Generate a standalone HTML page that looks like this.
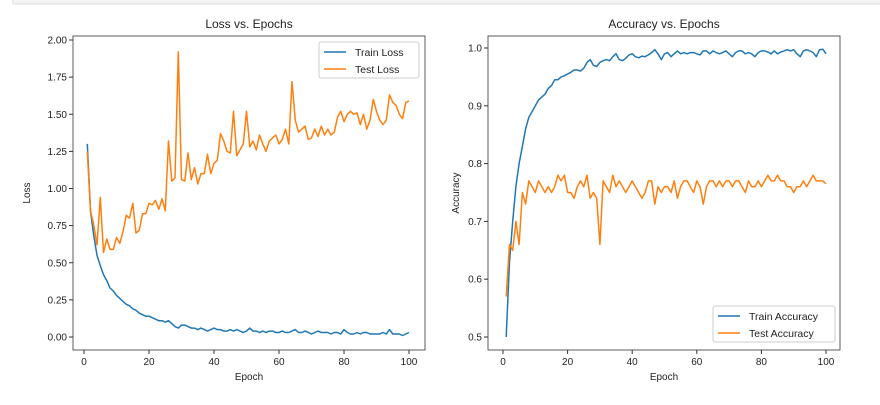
<!DOCTYPE html>
<html><head><meta charset="utf-8"><style>
body{margin:0;background:#fff;width:880px;height:400px;overflow:hidden}
text{font-family:"Liberation Sans",sans-serif;fill:#222}
</style></head><body>
<svg width="880" height="400">
<rect x="13" y="-1" width="870" height="5" fill="#f5f5f5" stroke="#dcdcdc"/>
<g id="g1"></g>
<g id="g2"></g>
</svg>
<script>
const trainLoss=[1.30,0.85,0.68,0.55,0.48,0.42,0.38,0.33,0.31,0.28,0.26,0.24,0.22,0.21,0.19,0.18,0.16,0.15,0.14,0.14,0.13,0.12,0.11,0.11,0.10,0.11,0.09,0.07,0.06,0.08,0.08,0.07,0.06,0.06,0.05,0.06,0.05,0.04,0.05,0.06,0.05,0.05,0.04,0.04,0.05,0.04,0.05,0.04,0.03,0.04,0.06,0.04,0.04,0.03,0.04,0.03,0.04,0.04,0.03,0.03,0.04,0.03,0.03,0.04,0.05,0.03,0.03,0.04,0.03,0.02,0.03,0.04,0.03,0.03,0.03,0.02,0.03,0.03,0.02,0.05,0.03,0.02,0.02,0.03,0.02,0.03,0.03,0.02,0.02,0.02,0.02,0.03,0.02,0.05,0.02,0.02,0.02,0.01,0.02,0.03];
const testLoss=[1.25,0.85,0.75,0.62,0.94,0.57,0.66,0.59,0.59,0.67,0.63,0.71,0.82,0.80,0.90,0.70,0.72,0.83,0.83,0.90,0.89,0.92,0.86,0.93,0.85,1.32,1.05,1.07,1.92,1.06,1.05,1.24,1.06,1.14,1.03,1.10,1.10,1.23,1.10,1.17,1.19,1.37,1.32,1.25,1.24,1.52,1.22,1.26,1.30,1.52,1.28,1.32,1.26,1.36,1.30,1.25,1.32,1.34,1.36,1.30,1.33,1.40,1.30,1.72,1.46,1.38,1.40,1.42,1.33,1.34,1.40,1.35,1.42,1.36,1.40,1.36,1.38,1.48,1.52,1.45,1.50,1.52,1.50,1.51,1.43,1.50,1.40,1.46,1.60,1.52,1.46,1.43,1.46,1.63,1.58,1.56,1.50,1.47,1.58,1.59];
const trainAcc=[0.50,0.63,0.70,0.76,0.80,0.83,0.86,0.88,0.89,0.90,0.91,0.915,0.92,0.93,0.935,0.945,0.945,0.95,0.952,0.955,0.958,0.962,0.962,0.96,0.965,0.975,0.98,0.97,0.968,0.975,0.978,0.98,0.978,0.985,0.99,0.98,0.978,0.982,0.988,0.99,0.985,0.983,0.986,0.985,0.988,0.992,0.997,0.99,0.98,0.99,0.992,0.985,0.99,0.995,0.99,0.992,0.99,0.992,0.992,0.99,0.988,0.995,0.995,0.99,0.995,0.992,0.99,0.992,0.995,0.99,0.985,0.992,0.995,0.995,0.99,0.992,0.99,0.985,0.992,0.995,0.995,0.993,0.99,0.995,0.99,0.993,0.995,0.997,0.995,0.997,0.99,0.985,0.995,0.997,0.995,0.992,0.985,0.997,0.998,0.99];
const testAcc=[0.57,0.66,0.65,0.70,0.66,0.75,0.73,0.77,0.76,0.75,0.77,0.76,0.75,0.76,0.75,0.76,0.78,0.77,0.78,0.75,0.75,0.74,0.76,0.77,0.76,0.78,0.74,0.75,0.74,0.66,0.77,0.76,0.75,0.78,0.76,0.77,0.76,0.75,0.76,0.77,0.76,0.75,0.74,0.75,0.77,0.77,0.73,0.76,0.75,0.76,0.76,0.75,0.77,0.74,0.76,0.77,0.77,0.76,0.75,0.77,0.76,0.73,0.76,0.77,0.77,0.76,0.77,0.76,0.77,0.77,0.76,0.77,0.77,0.76,0.75,0.77,0.76,0.76,0.77,0.76,0.77,0.78,0.77,0.77,0.78,0.77,0.77,0.76,0.76,0.75,0.76,0.76,0.77,0.76,0.77,0.78,0.77,0.77,0.77,0.765];
const xTicks=[0,20,40,60,80,100];
const lossTicks=[0,0.25,0.5,0.75,1.0,1.25,1.5,1.75,2.0];
const lossTickLabels=["0.00","0.25","0.50","0.75","1.00","1.25","1.50","1.75","2.00"];
const accTicks=[0.5,0.6,0.7,0.8,0.9,1.0];
const accTickLabels=["0.5","0.6","0.7","0.8","0.9","1.0"];
const NS="http://www.w3.org/2000/svg";
function mk(p,t,a){const e=document.createElementNS(NS,t);for(const k in a)e.setAttribute(k,a[k]);p.appendChild(e);return e;}
function chart(g,o){
 const X=e=>o.x0+(e-0)*(o.x100-o.x0)/100;
 const Y=v=>o.yA+(v-o.vA)*(o.yB-o.yA)/(o.vB-o.vA);
 o.series.forEach((s,si)=>{
  const d=s.data.map((v,i)=>(i?'L':'M')+X(i+1).toFixed(1)+' '+Y(v).toFixed(1)).join('');
  const p=mk(g,'path',{d:d,fill:'none',stroke:s.color,'stroke-width':1.5,'stroke-linejoin':'round'});
  
  
 });
 const fr=mk(g,'rect',{x:o.L,y:o.T,width:o.R-o.L,height:o.B-o.T,fill:'none',stroke:'#333','stroke-width':0.8});
 
 
 xTicks.forEach(t=>{const x=X(t);mk(g,'line',{x1:x,x2:x,y1:o.B,y2:o.B+4,stroke:'#333'});
  const tx=mk(g,'text',{x:x,y:o.B+15,'font-size':10,'text-anchor':'middle'});tx.textContent=t;
  
  });
 o.yt.forEach((t,i)=>{const y=Y(t);mk(g,'line',{x1:o.L-4,x2:o.L,y1:y,y2:y,stroke:'#333'});
  const tx=mk(g,'text',{x:o.L-6,y:y+3.5,'font-size':10,'text-anchor':'end'});tx.textContent=o.yl[i];
  
  });
 const ti=mk(g,'text',{x:(o.L+o.R)/2,y:o.T-8,'font-size':12,'text-anchor':'middle'});ti.textContent=o.title;
 
 
 const xl=mk(g,'text',{x:(o.L+o.R)/2,y:o.B+30,'font-size':10,'text-anchor':'middle'});xl.textContent='Epoch';
 
 
 const yl=mk(g,'text',{x:0,y:0,'font-size':10,'text-anchor':'middle',transform:`translate(${o.ylx},${(o.T+o.B)/2}) rotate(-90)`});yl.textContent=o.ylab;
 
 
 const lg=mk(g,'g',{});
 
 
 mk(lg,'rect',{x:o.lx,y:o.ly,width:o.lw,height:36,rx:2,fill:'#fff',stroke:'#ccc'});
 o.series.forEach((s,i)=>{const y=o.ly+10+i*17;
  mk(lg,'line',{x1:o.lx+5,x2:o.lx+27,y1:y,y2:y,stroke:s.color,'stroke-width':1.5});
  const t=mk(lg,'text',{x:o.lx+36,y:y+4,'font-size':10.5});t.textContent=s.label;
  
  });
}
chart(document.getElementById('g1'),{L:73,R:425,T:36,B:350,x0:84,x100:409,yA:337,vA:0,yB:40,vB:2,yt:lossTicks,yl:lossTickLabels,title:'Loss vs. Epochs',ylab:'Loss',ylx:30,lx:319,ly:42,lw:100,
 series:[{data:trainLoss,color:'#1f77b4',label:'Train Loss',name:'train-loss-line'},{data:testLoss,color:'#ff7f0e',label:'Test Loss',name:'test-loss-line'}]});
chart(document.getElementById('g2'),{L:488,R:840,T:36,B:350,x0:503,x100:826,yA:337,vA:0.5,yB:48,vB:1.0,yt:accTicks,yl:accTickLabels,title:'Accuracy vs. Epochs',ylab:'Accuracy',ylx:459,lx:713,ly:306,lw:122,
 series:[{data:trainAcc,color:'#1f77b4',label:'Train Accuracy',name:'train-accuracy-line'},{data:testAcc,color:'#ff7f0e',label:'Test Accuracy',name:'test-accuracy-line'}]});
</script>
</body></html>
